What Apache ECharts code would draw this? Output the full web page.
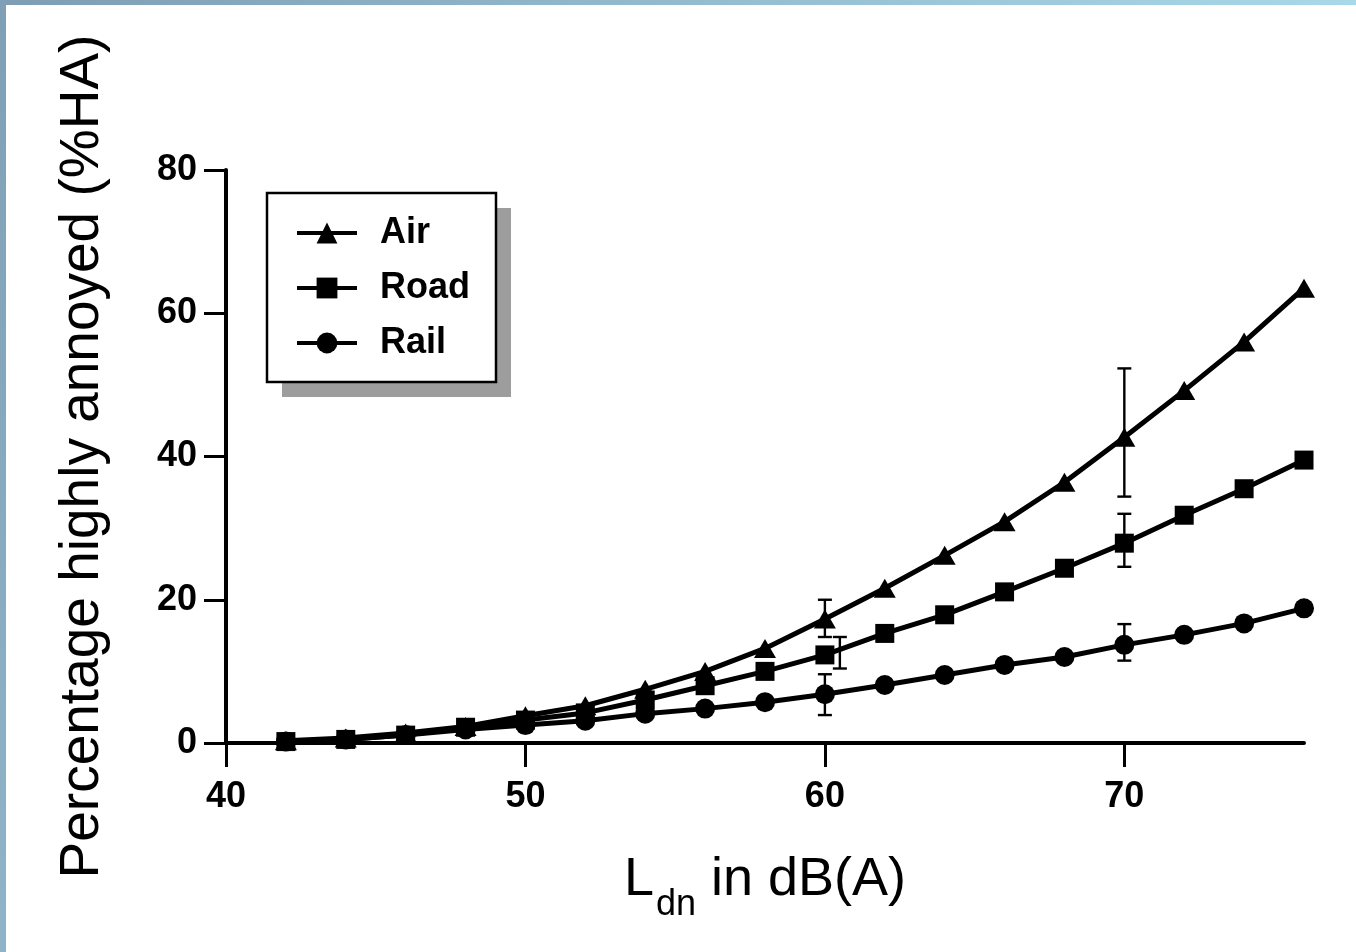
<!DOCTYPE html>
<html>
<head>
<meta charset="utf-8">
<script src="https://cdn.jsdelivr.net/npm/echarts@6/dist/echarts.min.js"></script>
<style>
html,body{margin:0;padding:0;background:#fff;}
#chart{width:1356px;height:952px;}
</style>
</head>
<body>
<div id="chart"></div>
<script>
// Data
var ldn = [42, 44, 46, 48, 50, 52, 54, 56, 58, 60, 62, 64, 66, 68, 70, 72, 74, 76];
var airHA  = [0.3, 0.7, 1.4, 2.3, 3.8, 5.2, 7.5, 10.0, 13.2, 17.3, 21.6, 26.2, 30.9, 36.4, 42.7, 49.2, 56.0, 63.5];
var roadHA = [0.2, 0.5, 1.1, 2.2, 3.2, 4.2, 6.0, 8.0, 10.0, 12.3, 15.3, 17.9, 21.1, 24.4, 27.9, 31.8, 35.5, 39.5];
var railHA = [0.2, 0.5, 1.1, 1.9, 2.5, 3.1, 4.1, 4.8, 5.7, 6.8, 8.1, 9.5, 10.9, 12.0, 13.7, 15.1, 16.7, 18.8];
// error bars: [x, low, high]
var airErr  = [[60, 14.8, 20.0], [70, 34.4, 52.3]];
var roadErr = [[60.5, 10.4, 14.8], [70, 24.6, 32.0]];
var railErr = [[60, 3.9, 9.6], [70, 11.5, 16.6]];
var xTicks = [40, 50, 60, 70];

function pairs(ys){ return ldn.map(function(x,i){ return [x, ys[i]]; }); }

function errItem(params, api){
  var x = api.value(0), lo = api.value(1), hi = api.value(2);
  var pLo = api.coord([x, lo]), pHi = api.coord([x, hi]);
  var cw = 7;
  var st = {stroke:'#000', lineWidth:2.4};
  return {type:'group', children:[
    {type:'line', shape:{x1:pLo[0], y1:pLo[1], x2:pHi[0], y2:pHi[1]}, style:st},
    {type:'line', shape:{x1:pLo[0]-cw, y1:pLo[1], x2:pLo[0]+cw, y2:pLo[1]}, style:st},
    {type:'line', shape:{x1:pHi[0]-cw, y1:pHi[1], x2:pHi[0]+cw, y2:pHi[1]}, style:st}
  ]};
}

var lineBase = {
  type:'line', showSymbol:true, smooth:false, z:3,
  lineStyle:{color:'#000', width:5},
  itemStyle:{color:'#000', borderWidth:0},
  emphasis:{disabled:true}, animation:false
};

var chart = echarts.init(document.getElementById('chart'), null, {renderer:'canvas'});
var ff = '"Liberation Sans", Arial, sans-serif';

chart.setOption({
  backgroundColor:'#ffffff',
  animation:false,
  grid:{left:226, right:52, top:170, bottom:209, containLabel:false, outerBoundsMode:'none'},
  graphic:[
    {type:'rect', z:0, shape:{x:0, y:0, width:1356, height:5},
     style:{fill:new echarts.graphic.LinearGradient(0,0,1,0,[{offset:0,color:'#7e9db3'},{offset:1,color:'#a8d9e8'}])}},
    {type:'rect', z:0, shape:{x:0, y:0, width:6, height:952},
     style:{fill:new echarts.graphic.LinearGradient(0,0,0,1,[{offset:0,color:'#7f9fb5'},{offset:1,color:'#8fb4c8'}])}},
    {type:'rect', z:1, shape:{x:282, y:208, width:229, height:189},
     style:{fill:'#9d9d9d'}},
    {type:'rect', z:2, shape:{x:267, y:193, width:229, height:189},
     style:{fill:'#ffffff', stroke:'#000', lineWidth:2.5}}
  ],
  legend:{
    z:10, orient:'vertical', left:295, top:211, padding:0,
    itemWidth:60, itemHeight:26, itemGap:11,
    data:['Air','Road','Rail'],
    lineStyle:{color:'#000', width:4},
    itemStyle:{color:'#000'},
    textStyle:{fontFamily:ff, fontWeight:'bold', fontSize:36, lineHeight:44, color:'#000', padding:[0,0,0,18]},
    selectedMode:false
  },
  xAxis:{
    type:'value', min:40, max:76,
    name:'{m|L}{s|dn}{m| in dB(A)}',
    nameLocation:'middle', nameGap:104,
    nameTextStyle:{rich:{
      m:{fontFamily:ff, fontSize:54, color:'#000', verticalAlign:'bottom', lineHeight:60},
      s:{fontFamily:ff, fontSize:36, color:'#000', verticalAlign:'bottom', lineHeight:44, padding:[0,0,-16,2]}
    }},
    splitLine:{show:false},
    axisLine:{show:true, onZero:false, lineStyle:{color:'#000', width:4}},
    axisTick:{show:true, inside:false, length:24, customValues:xTicks, lineStyle:{color:'#000', width:3}},
    axisLabel:{customValues:xTicks, margin:36, color:'#000', fontFamily:ff, fontWeight:'bold', fontSize:36}
  },
  yAxis:{
    type:'value', min:0, max:80, interval:20,
    name:'Percentage highly annoyed (%HA)',
    nameLocation:'middle', nameGap:116,
    nameTextStyle:{fontFamily:ff, fontSize:55, color:'#000'},
    splitLine:{show:false},
    axisLine:{show:true, lineStyle:{color:'#000', width:4}},
    axisTick:{show:true, inside:false, length:22, lineStyle:{color:'#000', width:3}},
    axisLabel:{margin:29, color:'#000', fontFamily:ff, fontWeight:'bold', fontSize:36}
  },
  series:[
    Object.assign({}, lineBase, {name:'Air', data:pairs(airHA), symbol:'triangle', symbolSize:[22,19]}),
    Object.assign({}, lineBase, {name:'Road', data:pairs(roadHA), symbol:'rect', symbolSize:19}),
    Object.assign({}, lineBase, {name:'Rail', data:pairs(railHA), symbol:'circle', symbolSize:20}),
    {type:'custom', name:'airErr', data:airErr, renderItem:errItem, z:4, silent:true},
    {type:'custom', name:'roadErr', data:roadErr, renderItem:errItem, z:4, silent:true},
    {type:'custom', name:'railErr', data:railErr, renderItem:errItem, z:4, silent:true}
  ]
});
</script>
</body>
</html>
